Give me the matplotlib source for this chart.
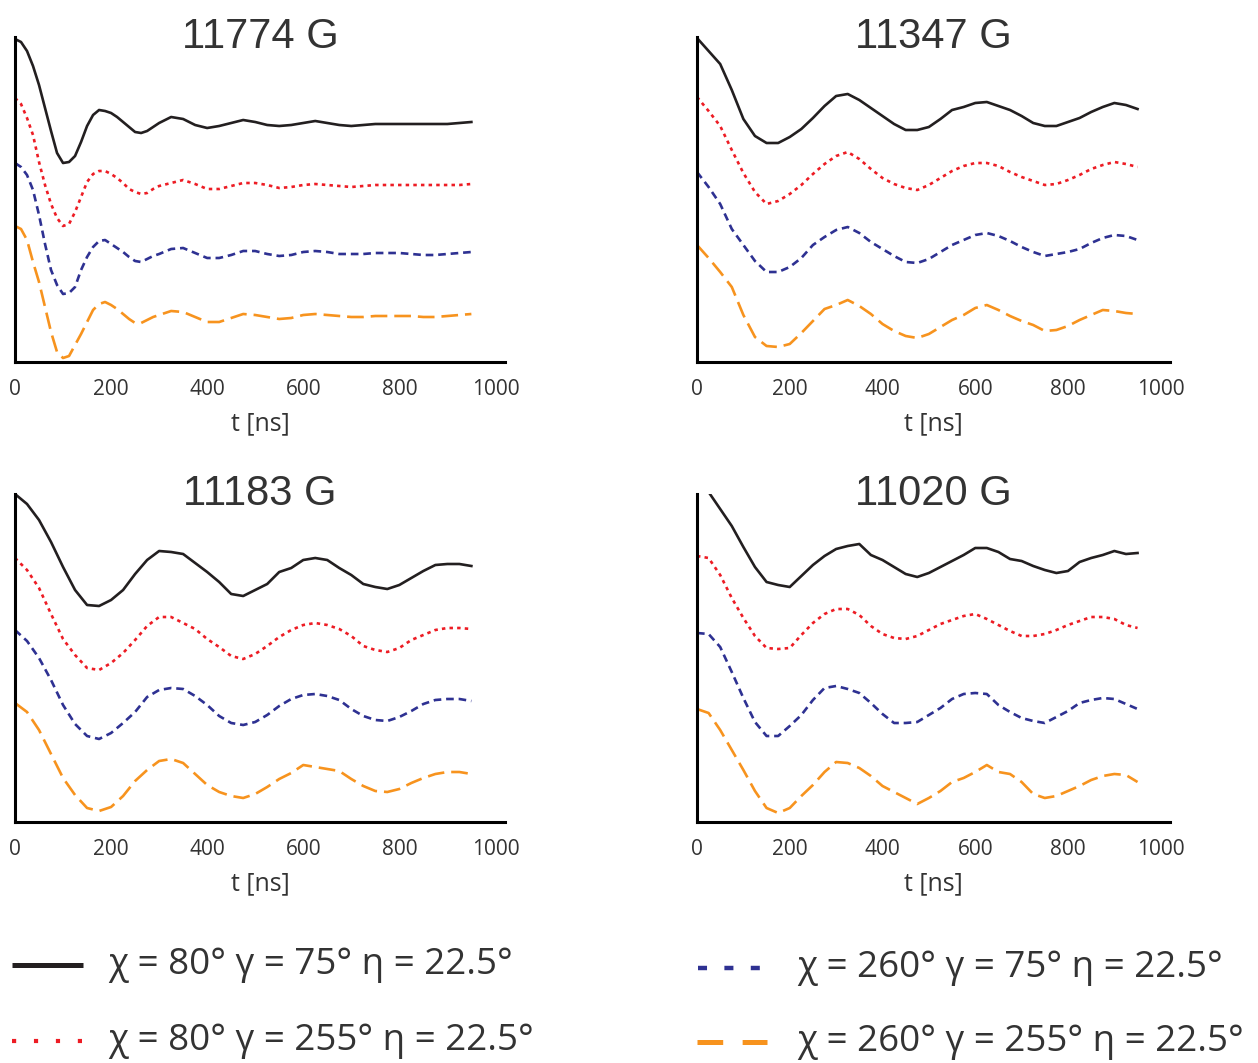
import numpy as np
import matplotlib
matplotlib.use("Agg")
import matplotlib.pyplot as plt
from matplotlib.lines import Line2D

plt.rcParams['lines.scale_dashes'] = False

# time grids of the read-off values [ns]; the fast 11774 G curves are read finer at early times
t_fine = np.concatenate([np.arange(0, 301, 12.5), np.arange(325, 951, 25)])
t = np.arange(0, 951, 25)

titles = ["11774 G", "11347 G", "11183 G", "11020 G"]

# signal (with vertical offsets), one list per curve
black_11774 = [323, 320, 311, 296, 277, 254, 231, 209, 199, 200, 206, 220, 236, 247, 252, 251,
               249, 245, 240, 235, 230, 229, 231, 235, 239,
               245, 243, 237, 234, 236, 239, 242, 240, 237, 236, 237, 239, 241, 239, 237, 236,
               237, 238, 238, 238, 238, 238, 238, 238, 239, 240]
red_11774 = [264, 258, 244, 227, 200, 177, 158, 144, 136, 138, 150, 165, 180, 188, 191, 191,
             188, 184, 179, 173, 170, 168, 169, 173, 176,
             179, 182, 178, 173, 173, 176, 179, 179, 177, 174, 175, 177, 178, 177, 176, 175,
             176, 177, 177, 177, 177, 177, 177, 177, 177, 178]
blue_11774 = [199, 195, 187, 172, 147, 118, 92, 77, 68, 69, 75, 92, 105, 115, 121, 122,
              118, 114, 110, 105, 101, 100, 103, 106, 108,
              113, 114, 109, 104, 104, 107, 111, 111, 108, 106, 107, 110, 111, 110, 108, 108,
              108, 109, 109, 109, 108, 107, 107, 108, 109, 110]
orange_11774 = [136, 133, 122, 100, 80, 55, 30, 10, 4, 6, 17, 28, 40, 52, 58, 60,
                57, 53, 48, 43, 39, 39, 42, 45, 47,
                51, 50, 45, 40, 40, 44, 48, 47, 45, 43, 44, 47, 48, 47, 46, 45,
                45, 46, 46, 46, 46, 45, 45, 46, 47, 48]

black_11347 = [324, 311, 298, 272, 243, 226, 219, 219, 225, 233, 244, 256, 266, 268, 262, 254,
               246, 238, 232, 232, 235, 243, 252, 255, 259, 260, 256, 252, 246, 239, 236, 236,
               240, 244, 250, 255, 259, 257, 253]
red_11347 = [265, 251, 236, 212, 189, 170, 158, 161, 168, 177, 188, 198, 206, 210, 203, 193,
             184, 178, 174, 172, 177, 184, 191, 196, 199, 199, 196, 190, 185, 181, 177, 178,
             182, 187, 193, 197, 200, 198, 195]
blue_11347 = [190, 175, 158, 133, 117, 101, 90, 90, 95, 104, 117, 125, 132, 135, 129, 120,
              113, 106, 100, 99, 103, 110, 117, 122, 127, 129, 126, 121, 115, 110, 106, 108,
              110, 113, 119, 124, 127, 126, 122]
orange_11347 = [117, 104, 90, 75, 47, 25, 16, 15, 18, 29, 41, 53, 57, 62, 56, 48,
                38, 31, 26, 24, 28, 35, 42, 47, 54, 57, 52, 46, 41, 37, 31, 32,
                36, 42, 47, 52, 51, 49, 48]

black_11183 = [328, 318, 302, 280, 255, 232, 217, 216, 222, 232, 248, 262, 271, 270, 268, 259,
               250, 240, 228, 226, 232, 238, 250, 254, 262, 264, 262, 254, 247, 238, 235, 233,
               237, 244, 251, 257, 258, 258, 256]
red_11183 = [264, 252, 234, 208, 183, 167, 154, 152, 159, 169, 182, 196, 205, 205, 199, 193,
             183, 175, 166, 163, 168, 176, 185, 192, 197, 199, 197, 193, 186, 176, 172, 170,
             174, 182, 187, 192, 194, 194, 193]
blue_11183 = [192, 181, 164, 142, 117, 98, 86, 83, 89, 99, 110, 125, 132, 134, 133, 126,
              117, 106, 99, 97, 100, 107, 116, 123, 127, 128, 126, 122, 113, 106, 102, 101,
              105, 111, 118, 122, 123, 123, 121]
orange_11183 = [119, 110, 92, 68, 44, 27, 14, 11, 15, 26, 41, 52, 61, 63, 59, 48,
                37, 30, 26, 24, 28, 35, 43, 49, 57, 55, 53, 51, 43, 36, 31, 30,
                33, 39, 44, 48, 50, 50, 48]

black_11020 = [330, 330, 313, 296, 275, 255, 240, 237, 235, 246, 257, 266, 273, 276, 278, 267,
               262, 255, 248, 245, 249, 255, 261, 267, 274, 274, 270, 263, 261, 256, 252, 249,
               251, 260, 264, 267, 271, 268, 269]
red_11020 = [266, 264, 247, 224, 204, 186, 174, 173, 174, 187, 199, 208, 213, 213, 207, 196,
             188, 184, 183, 186, 192, 198, 202, 206, 208, 203, 197, 191, 186, 186, 188, 192,
             197, 201, 205, 205, 203, 197, 194]
blue_11020 = [189, 188, 175, 150, 124, 100, 86, 86, 96, 107, 122, 134, 136, 133, 129, 119,
              108, 99, 99, 100, 107, 114, 123, 128, 129, 128, 117, 110, 104, 101, 99, 105,
              111, 119, 122, 124, 123, 118, 113]
orange_11020 = [113, 109, 92, 72, 52, 31, 14, 9, 14, 26, 37, 50, 60, 59, 54, 46,
                36, 30, 24, 18, 24, 31, 40, 44, 50, 57, 50, 48, 40, 28, 24, 26,
                31, 36, 42, 46, 48, 47, 40]

legend_labels = ["χ = 80° γ = 75° η = 22.5°", "χ = 80° γ = 255° η = 22.5°",
                 "χ = 260° γ = 75° η = 22.5°", "χ = 260° γ = 255° η = 22.5°"]

panels = [
    (t_fine, [black_11774, red_11774, blue_11774, orange_11774]),
    (t, [black_11347, red_11347, blue_11347, orange_11347]),
    (t, [black_11183, red_11183, blue_11183, orange_11183]),
    (t, [black_11020, red_11020, blue_11020, orange_11020]),
]

colors = ["#231f20", "#ed1c24", "#2e3192", "#f7931e"]
styles = ["-", (0, (2.5, 3.0)), (0, (5.5, 3.5)), (0, (12, 5))]

W, H = 1258, 1063
fig = plt.figure(figsize=(W / 100, H / 100), dpi=100)

# axes boxes in pixels: left, bottom(from top), right, top(from top)
boxes = [(15, 362, 505, 37), (697, 362, 1170, 37),
         (15, 822, 505, 494), (697, 822, 1170, 494)]

for i, ((tt, curves), title) in enumerate(zip(panels, titles)):
    x0, yb, x1, yt = boxes[i]
    ax = fig.add_axes([x0 / W, 1 - yb / H, (x1 - x0) / W, (yb - yt) / H])
    for y, c, ls in zip(curves, colors, styles):
        ax.plot(tt, y, color=c, linestyle=ls, lw=1.9, solid_joinstyle='round')
    ax.set_xlim(0, 1020)
    ax.set_ylim(0, yb - yt)
    ax.set_xticks([0, 200, 400, 600, 800, 1000])
    ax.set_yticks([])
    ax.tick_params(axis='x', length=0, pad=12, labelsize=15, labelcolor='#333333')
    for lab in ax.get_xticklabels():
        lab.set_family('Open Sans')
    ax.set_xlabel("t [ns]", fontsize=18, color='#333333', family='Open Sans', labelpad=8)
    for s in ['top', 'right']:
        ax.spines[s].set_visible(False)
    for s in ['left', 'bottom']:
        ax.spines[s].set_linewidth(2.2)
        ax.spines[s].set_color('black')
    ax.text(0.5, 0.965, title, transform=ax.transAxes, ha='center', va='baseline',
            fontsize=30, family='Liberation Sans', color='#333333')

# legend, drawn by hand in figure pixels
leg_pos = [(12, 83, 108, 965), (12, 83, 108, 1041), (698, 764, 797, 968), (697, 767, 797, 1042)]
leg_styles = ["-", (0, (3, 12.8)), (0, (6.5, 12.5)), (0, (18.5, 14))]
leg_lw = [3.6, 3.0, 3.2, 3.6]
for (hx0, hx1, tx, yy), c, ls, lw, lab in zip(leg_pos, colors, leg_styles, leg_lw, legend_labels):
    fig.add_artist(Line2D([hx0 / W, hx1 / W], [1 - yy / H, 1 - yy / H], color=c,
                          linestyle=ls, lw=lw, transform=fig.transFigure,
                          solid_capstyle='butt', dash_capstyle='butt'))
    fig.text(tx / W, 1 - yy / H, lab, ha='left', va='center', fontsize=26.5,
             family='Open Sans', color='#333333')

fig.savefig("out.png", dpi=100)
